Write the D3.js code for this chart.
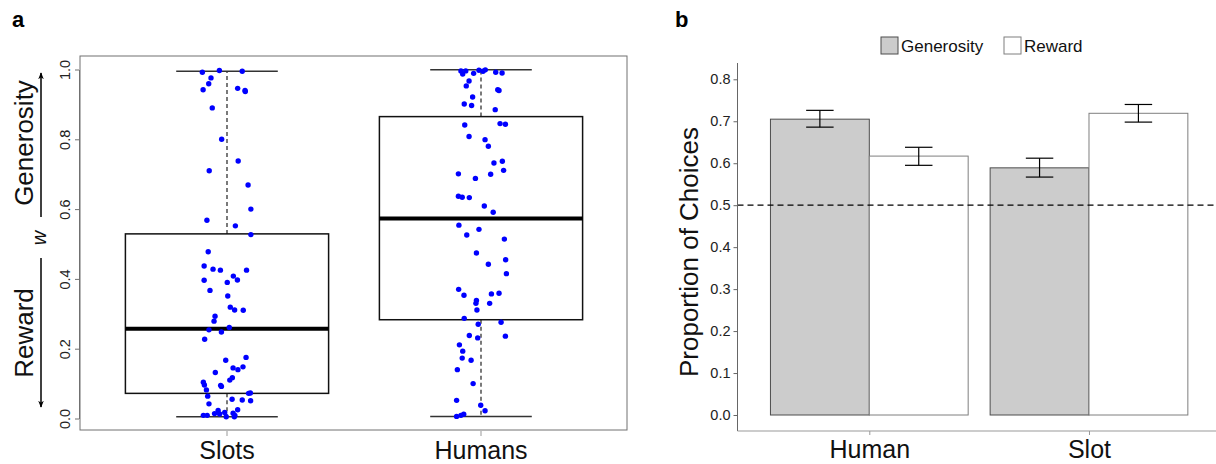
<!DOCTYPE html>
<html>
<head>
<meta charset="utf-8">
<script src="https://cdn.jsdelivr.net/npm/d3@7"></script>
<style>
body { margin: 0; background: #fff; }
text { font-family: "Liberation Sans", Arial, sans-serif; }
</style>
</head>
<body>
<div id="chart"></div>
<script>
// panel a: boxplots of w, with jittered points
var groupsA = ["Slots", "Humans"];
// lower whisker, q1, median, q3, upper whisker
var slotsStats  = [0.005, 0.072, 0.257, 0.529, 0.995];
var humansStats = [0.006, 0.283, 0.573, 0.865, 0.999];

var slotsValues = [0.992, 0.997, 0.995, 0.976, 0.959, 0.942, 0.946, 0.940, 0.937, 0.890,
  0.800, 0.738, 0.710, 0.669, 0.600, 0.568, 0.552, 0.527, 0.478, 0.437,
  0.428, 0.425, 0.425, 0.408, 0.396, 0.390, 0.397, 0.367, 0.351, 0.319,
  0.311, 0.310, 0.293, 0.279, 0.261, 0.254, 0.248, 0.227, 0.167, 0.175,
  0.132, 0.145, 0.140, 0.148, 0.117, 0.110, 0.104, 0.096, 0.095, 0.092,
  0.082, 0.064, 0.072, 0.073, 0.055, 0.053, 0.051, 0.042, 0.025, 0.023,
  0.014, 0.009, 0.009, 0.013, 0.017, 0.015, 0.009, 0.005, 0.005];
var slotsJitter = [-0.097, -0.030, 0.060, -0.063, -0.072, -0.094, 0.042, 0.071, 0.072, -0.058,
  -0.021, 0.044, -0.070, 0.083, 0.094, -0.079, 0.033, 0.094, -0.074, -0.090,
  -0.055, -0.026, 0.077, 0.025, -0.090, 0.001, 0.041, -0.067, 0.003, 0.013,
  0.030, 0.064, -0.047, -0.051, 0.009, -0.071, -0.022, -0.088, -0.005, 0.075,
  -0.046, 0.024, 0.043, 0.063, 0.021, 0.011, -0.093, -0.089, -0.025, -0.022,
  -0.081, -0.076, 0.085, 0.092, 0.020, 0.060, 0.093, -0.071, 0.042, -0.035,
  -0.049, -0.093, -0.078, -0.029, -0.009, 0.024, 0.031, -0.003, 0.029];

var humansValues = [0.996, 0.996, 0.987, 0.989, 0.998, 0.995, 0.999, 0.992, 0.990, 0.967,
  0.953, 0.942, 0.940, 0.921, 0.901, 0.897, 0.885, 0.841, 0.845, 0.843,
  0.808, 0.799, 0.780, 0.732, 0.737, 0.711, 0.701, 0.688, 0.700, 0.637,
  0.634, 0.633, 0.609, 0.591, 0.554, 0.542, 0.526, 0.514, 0.474, 0.455,
  0.442, 0.415, 0.370, 0.353, 0.357, 0.359, 0.338, 0.330, 0.330, 0.311,
  0.287, 0.276, 0.270, 0.238, 0.231, 0.236, 0.211, 0.193, 0.173, 0.167,
  0.140, 0.100, 0.052, 0.038, 0.022, 0.006, 0.009, 0.012];
var humansJitter = [-0.079, -0.060, -0.072, -0.029, -0.008, 0.008, 0.017, 0.058, 0.083, -0.047,
  -0.058, 0.066, 0.071, -0.033, -0.066, -0.037, 0.056, -0.064, 0.075, 0.096,
  -0.047, 0.016, 0.029, 0.051, 0.084, 0.089, -0.089, -0.022, 0.038, -0.089,
  -0.074, -0.046, 0.013, 0.048, -0.087, -0.008, -0.056, 0.092, -0.018, 0.097,
  0.029, 0.100, -0.088, -0.067, 0.041, 0.071, -0.018, -0.020, 0.034, -0.016,
  -0.066, 0.079, -0.011, -0.046, -0.013, 0.096, -0.085, -0.072, -0.074, -0.039,
  -0.093, -0.031, -0.096, -0.001, 0.016, -0.096, -0.079, -0.068];

var ticksA = [0, 0.2, 0.4, 0.6, 0.8, 1.0];

// panel b: proportion of choices
var categoriesB = ["Human", "Slot"];
var seriesB = ["Generosity", "Reward"];
var generosityMean = [0.705, 0.589];
var generosityLow  = [0.686, 0.567];
var generosityHigh = [0.726, 0.612];
var rewardMean = [0.617, 0.719];
var rewardLow  = [0.595, 0.698];
var rewardHigh = [0.638, 0.740];
var ticksB = [0, 0.1, 0.2, 0.3, 0.4, 0.5, 0.6, 0.7, 0.8];
var chanceLevel = 0.5;

var width = 1216, height = 464;
var svg = d3.select("#chart").append("svg")
  .attr("width", width).attr("height", height);
svg.append("rect").attr("width", width).attr("height", height).attr("fill", "#fff");

// ---------- panel a ----------
var yA = d3.scaleLinear().domain([0, 1]).range([418.5, 69.5]);
var xA = d3.scaleLinear().domain([1, 2]).range([227, 481]);
var boxHalf = 0.4, capHalf = 0.2;

var gA = svg.append("g");
gA.append("rect").attr("x", 80).attr("y", 56).attr("width", 547).attr("height", 374)
  .attr("fill", "none").attr("stroke", "#707070").attr("stroke-width", 1);

var axA = gA.append("g").attr("transform", "translate(79,0)")
  .call(d3.axisLeft(yA).tickValues(ticksA).tickFormat(d3.format(".1f")).tickSize(4).tickSizeOuter(0));
axA.select(".domain").attr("stroke", "#707070");
axA.selectAll(".tick line").attr("stroke", "#707070");
axA.selectAll(".tick text")
  .attr("font-size", 14.5).attr("fill", "#222")
  .attr("transform", "rotate(-90)")
  .attr("x", 0).attr("y", -9).attr("dy", 0)
  .attr("text-anchor", "middle");

[slotsStats, humansStats].forEach(function(s, i) {
  var c = i + 1;
  // whiskers
  gA.append("line").attr("x1", xA(c)).attr("x2", xA(c)).attr("y1", yA(s[3])).attr("y2", yA(s[4]))
    .attr("stroke", "#333").attr("stroke-width", 1.3).attr("stroke-dasharray", "4,3");
  gA.append("line").attr("x1", xA(c)).attr("x2", xA(c)).attr("y1", yA(s[1])).attr("y2", yA(s[0]))
    .attr("stroke", "#333").attr("stroke-width", 1.3).attr("stroke-dasharray", "4,3");
  [s[0], s[4]].forEach(function(v) {
    gA.append("line").attr("x1", xA(c - capHalf)).attr("x2", xA(c + capHalf))
      .attr("y1", yA(v)).attr("y2", yA(v)).attr("stroke", "#333").attr("stroke-width", 1.5);
  });
  gA.append("rect").attr("x", xA(c - boxHalf)).attr("width", xA(c + boxHalf) - xA(c - boxHalf))
    .attr("y", yA(s[3])).attr("height", yA(s[1]) - yA(s[3]))
    .attr("fill", "none").attr("stroke", "#111").attr("stroke-width", 1.5);
  gA.append("line").attr("x1", xA(c - boxHalf)).attr("x2", xA(c + boxHalf))
    .attr("y1", yA(s[2])).attr("y2", yA(s[2])).attr("stroke", "#000").attr("stroke-width", 4);
});

var ptsA = [];
slotsValues.forEach(function(v, i) { ptsA.push({ g: 1, v: v, j: slotsJitter[i] }); });
humansValues.forEach(function(v, i) { ptsA.push({ g: 2, v: v, j: humansJitter[i] }); });
gA.selectAll("circle.pt").data(ptsA).enter().append("circle")
  .attr("class", "pt")
  .attr("cx", function(d) { return xA(d.g + d.j); })
  .attr("cy", function(d) { return yA(d.v); })
  .attr("r", 2.7).attr("fill", "#0000ff");

// x axis ticks and labels
groupsA.forEach(function(name, i) {
  gA.append("line").attr("x1", xA(i + 1)).attr("x2", xA(i + 1)).attr("y1", 431).attr("y2", 436)
    .attr("stroke", "#999");
  gA.append("text").attr("x", xA(i + 1)).attr("y", 459).attr("text-anchor", "middle")
    .attr("font-size", 25).attr("fill", "#111").text(name);
});

// left axis annotation
gA.append("text").attr("transform", "translate(33,143) rotate(-90)")
  .attr("text-anchor", "middle").attr("font-size", 26).attr("fill", "#111").text("Generosity");
gA.append("text").attr("transform", "translate(33,333) rotate(-90)")
  .attr("text-anchor", "middle").attr("font-size", 26).attr("fill", "#111").text("Reward");
gA.append("text").attr("transform", "translate(46,238) rotate(-90)")
  .attr("text-anchor", "middle").attr("font-size", 20).attr("font-style", "italic")
  .attr("fill", "#111").text("w");

var defs = svg.append("defs");
defs.append("marker").attr("id", "head").attr("viewBox", "0 0 10 10")
  .attr("refX", 9).attr("refY", 5).attr("markerWidth", 7).attr("markerHeight", 7)
  .attr("orient", "auto").attr("markerUnits", "userSpaceOnUse")
  .append("path").attr("d", "M0,1 L10,5 L0,9 L3,5 Z").attr("fill", "#000");
gA.append("line").attr("x1", 41).attr("x2", 41).attr("y1", 217).attr("y2", 73)
  .attr("stroke", "#000").attr("stroke-width", 1.5).attr("marker-end", "url(#head)");
gA.append("line").attr("x1", 41).attr("x2", 41).attr("y1", 258).attr("y2", 407)
  .attr("stroke", "#000").attr("stroke-width", 1.5).attr("marker-end", "url(#head)");

svg.append("text").attr("x", 12).attr("y", 27).attr("font-size", 22).attr("font-weight", "bold").text("a");

// ---------- panel b ----------
var yB = d3.scaleLinear().domain([0, 0.8]).range([415, 79.3]);
var xB = d3.scaleLinear().domain([0.4, 2.6]).range([737.5, 1220.8]);
var dodge = 0.45, errHalf = 0.0625;

var gB = svg.append("g");

var bars = [];
categoriesB.forEach(function(cat, i) {
  bars.push({ c: i + 1, s: 0, m: generosityMean[i], lo: generosityLow[i], hi: generosityHigh[i] });
  bars.push({ c: i + 1, s: 1, m: rewardMean[i], lo: rewardLow[i], hi: rewardHigh[i] });
});
var fills = ["#cccccc", "#ffffff"];
var strokes = ["#4d4d4d", "#7f7f7f"];

gB.selectAll("rect.bar").data(bars).enter().append("rect")
  .attr("class", "bar")
  .attr("x", function(d) { return xB(d.c - dodge + d.s * dodge); })
  .attr("width", xB(dodge) - xB(0))
  .attr("y", function(d) { return yB(d.m); })
  .attr("height", function(d) { return yB(0) - yB(d.m); })
  .attr("fill", function(d) { return fills[d.s]; })
  .attr("stroke", function(d) { return strokes[d.s]; })
  .attr("stroke-width", 1);

var eb = gB.selectAll("g.err").data(bars).enter().append("g").attr("class", "err");
eb.append("line")
  .attr("x1", function(d) { return xB(d.c - dodge / 2 + d.s * dodge); })
  .attr("x2", function(d) { return xB(d.c - dodge / 2 + d.s * dodge); })
  .attr("y1", function(d) { return yB(d.lo); }).attr("y2", function(d) { return yB(d.hi); })
  .attr("stroke", "#000").attr("stroke-width", 1.2);
["lo", "hi"].forEach(function(k) {
  eb.append("line")
    .attr("x1", function(d) { return xB(d.c - dodge / 2 + d.s * dodge - errHalf); })
    .attr("x2", function(d) { return xB(d.c - dodge / 2 + d.s * dodge + errHalf); })
    .attr("y1", function(d) { return yB(d[k]); }).attr("y2", function(d) { return yB(d[k]); })
    .attr("stroke", "#000").attr("stroke-width", 1.2);
});

gB.append("line").attr("x1", 737.5).attr("x2", width).attr("y1", yB(chanceLevel)).attr("y2", yB(chanceLevel))
  .attr("stroke", "#000").attr("stroke-width", 1.3).attr("stroke-dasharray", "6,4");

// axes
var axB = gB.append("g").attr("transform", "translate(737.5,0)")
  .call(d3.axisLeft(yB).tickValues(ticksB).tickFormat(d3.format(".1f")).tickSize(4).tickSizeOuter(0));
axB.select(".domain").attr("d", "M0,63V431").attr("stroke", "#666");
axB.selectAll(".tick line").attr("stroke", "#666");
axB.selectAll(".tick text").attr("font-size", 14.5).attr("fill", "#222").attr("x", -7);

var axBx = gB.append("g").attr("transform", "translate(0,431)")
  .call(d3.axisBottom(xB).tickValues([1, 2]).tickFormat(function(d) { return categoriesB[d - 1]; })
    .tickSize(4).tickSizeOuter(0));
axBx.select(".domain").attr("d", "M737.5,0H" + width).attr("stroke", "#999");
axBx.selectAll(".tick line").attr("stroke", "#999");
axBx.selectAll(".tick text").attr("font-size", 25).attr("fill", "#111").attr("y", 9).attr("dy", "0.71em");

gB.append("text").attr("transform", "translate(698,252) rotate(-90)")
  .attr("text-anchor", "middle").attr("font-size", 26).attr("fill", "#111").text("Proportion of Choices");

// legend
var legX = [881, 1004];
seriesB.forEach(function(name, i) {
  gB.append("rect").attr("x", legX[i]).attr("y", 37).attr("width", 17).attr("height", 17)
    .attr("fill", fills[i]).attr("stroke", strokes[i]).attr("stroke-width", 1);
  gB.append("text").attr("x", legX[i] + 20).attr("y", 52).attr("font-size", 17).attr("fill", "#111").text(name);
});

svg.append("text").attr("x", 675).attr("y", 27).attr("font-size", 22).attr("font-weight", "bold").text("b");
</script>
</body>
</html>
